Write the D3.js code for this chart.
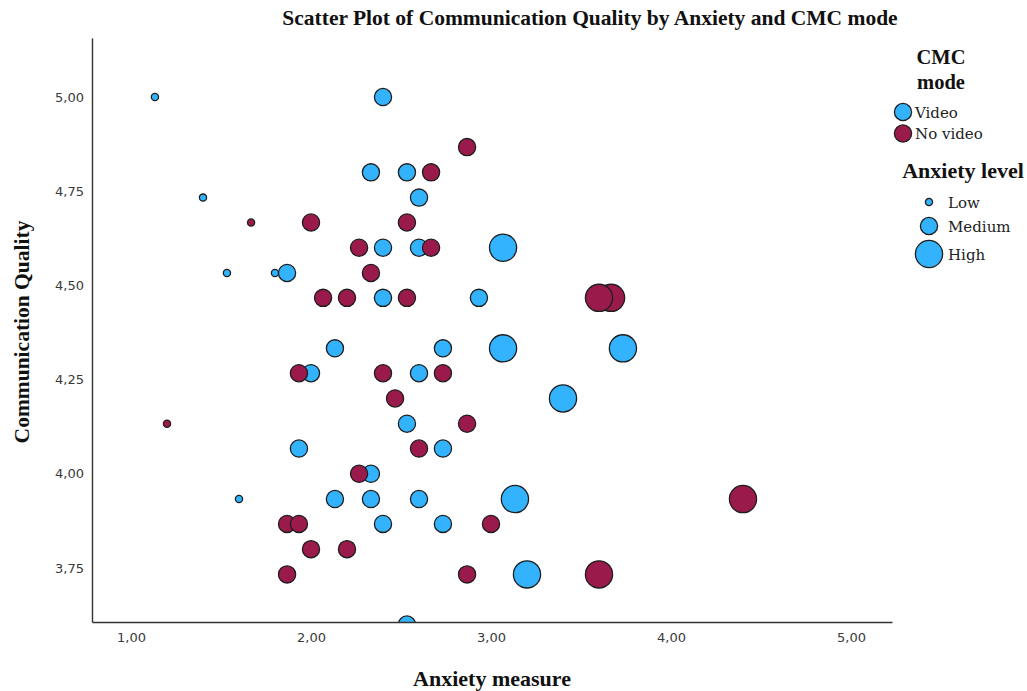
<!DOCTYPE html>
<html>
<head>
<meta charset="utf-8">
<script src="https://cdn.jsdelivr.net/npm/d3@7"></script>
<style>
  html, body { margin: 0; padding: 0; background: #fff; }
  svg { display: block; }
</style>
</head>
<body>
<svg id="chart" width="1027" height="691"></svg>
<script>
// Anxiety measure (x), communication quality (y) and anxiety level per respondent
const videoAnxiety = [1.133, 2.4, 2.333, 2.533, 1.4, 2.6, 2.4, 2.6, 3.067, 1.533, 1.8, 1.867,
  2.4, 2.933, 2.133, 2.733, 3.067, 3.733, 2.0, 2.6, 3.4, 2.533, 1.933, 2.733, 2.333,
  1.6, 2.133, 2.333, 2.6, 3.133, 2.4, 2.733, 3.2, 2.533];
const videoQuality = [5.0, 5.0, 4.8, 4.8, 4.733, 4.733, 4.6, 4.6, 4.6, 4.533, 4.533, 4.533,
  4.467, 4.467, 4.333, 4.333, 4.333, 4.333, 4.267, 4.267, 4.2, 4.133, 4.067, 4.067, 4.0,
  3.933, 3.933, 3.933, 3.933, 3.933, 3.867, 3.867, 3.733, 3.6];
const videoLevel = ["Low", "Medium", "Medium", "Medium", "Low", "Medium", "Medium", "Medium", "High", "Low", "Low", "Medium",
  "Medium", "Medium", "Medium", "Medium", "High", "High", "Medium", "Medium", "High", "Medium", "Medium", "Medium", "Medium",
  "Low", "Medium", "Medium", "Medium", "High", "Medium", "Medium", "High", "Medium"];

const noVideoAnxiety = [2.867, 2.667, 1.667, 2.0, 2.533, 2.267, 2.667, 2.333, 2.067, 2.2, 2.533,
  3.667, 3.6, 1.933, 2.4, 2.733, 2.467, 1.2, 2.867, 2.6, 2.267, 4.4, 1.867, 1.933, 3.0,
  2.0, 2.2, 1.867, 2.867, 3.6];
const noVideoQuality = [4.867, 4.8, 4.667, 4.667, 4.667, 4.6, 4.6, 4.533, 4.467, 4.467, 4.467,
  4.467, 4.467, 4.267, 4.267, 4.267, 4.2, 4.133, 4.133, 4.067, 4.0, 3.933, 3.867, 3.867, 3.867,
  3.8, 3.8, 3.733, 3.733, 3.733];
const noVideoLevel = ["Medium", "Medium", "Low", "Medium", "Medium", "Medium", "Medium", "Medium", "Medium", "Medium", "Medium",
  "High", "High", "Medium", "Medium", "Medium", "Medium", "Low", "Medium", "Medium", "Medium", "High", "Medium", "Medium", "Medium",
  "Medium", "Medium", "Medium", "Medium", "High"];

const modes = ["Video", "No video"];
const levels = ["Low", "Medium", "High"];
const xTicks = [1, 2, 3, 4, 5];
const yTicks = [3.75, 4.0, 4.25, 4.5, 4.75, 5.0];

const modeColor = d3.scaleOrdinal().domain(modes).range(["#33b3fd", "#9b1a4c"]);
const levelRadius = d3.scaleOrdinal().domain(levels).range([3.6, 8.6, 13.6]);

const points = [
  ...videoAnxiety.map((a, i) => ({ x: a, y: videoQuality[i], mode: "Video", level: videoLevel[i] })),
  ...noVideoAnxiety.map((a, i) => ({ x: a, y: noVideoQuality[i], mode: "No video", level: noVideoLevel[i] }))
];

const svg = d3.select("#chart");
const plot = { left: 92, right: 892, top: 38, bottom: 622 };

// 1 unit of anxiety = 180 px, 1 unit of quality = 376.8 px
const x = d3.scaleLinear().domain([0.7833, 5.2278]).range([plot.left, plot.right]);
const y = d3.scaleLinear().domain([3.6067, 5.1566]).range([plot.bottom, plot.top]);

const locale = d3.formatLocale({ decimal: ",", thousands: ".", grouping: [3], currency: ["", ""] });
const fmt = locale.format(".2f");

const serif = "'Liberation Serif', 'Times New Roman', serif";
const lightSerif = "'DejaVu Serif', Georgia, serif";
const sans = "'DejaVu Sans', Verdana, sans-serif";

svg.append("defs").append("clipPath").attr("id", "plot-clip")
  .append("rect")
  .attr("x", plot.left).attr("y", plot.top)
  .attr("width", plot.right - plot.left).attr("height", plot.bottom - plot.top);

// Points
svg.append("g").attr("clip-path", "url(#plot-clip)")
  .selectAll("circle").data(points).join("circle")
  .attr("cx", d => x(d.x))
  .attr("cy", d => y(d.y))
  .attr("r", d => levelRadius(d.level))
  .attr("fill", d => modeColor(d.mode))
  .attr("stroke", "#1e1e1e")
  .attr("stroke-width", 1.3);

// Axes
const yAxis = svg.append("g").attr("transform", `translate(${plot.left},0)`)
  .call(d3.axisLeft(y).tickValues(yTicks).tickFormat(fmt).tickSize(0).tickPadding(8).tickSizeOuter(0));
const xAxis = svg.append("g").attr("transform", `translate(0,${plot.bottom})`)
  .call(d3.axisBottom(x).tickValues(xTicks).tickFormat(fmt).tickSize(0).tickPadding(11).tickSizeOuter(0));

[xAxis, yAxis].forEach(g => {
  g.select(".domain").attr("stroke", "#333").attr("stroke-width", 1.4);
  g.selectAll("text").attr("font-family", sans).attr("font-size", 13).attr("fill", "#3a3a3a");
});

// Titles
svg.append("text")
  .attr("x", 590).attr("y", 25)
  .attr("text-anchor", "middle")
  .attr("font-family", serif).attr("font-weight", "bold").attr("font-size", 21.5)
  .attr("fill", "#111")
  .text("Scatter Plot of Communication Quality by Anxiety and CMC mode");

svg.append("text")
  .attr("x", 492).attr("y", 686)
  .attr("text-anchor", "middle")
  .attr("font-family", serif).attr("font-weight", "bold").attr("font-size", 22)
  .attr("fill", "#111")
  .text("Anxiety measure");

svg.append("text")
  .attr("transform", "translate(29,332) rotate(-90)")
  .attr("text-anchor", "middle")
  .attr("font-family", serif).attr("font-weight", "bold").attr("font-size", 21.5)
  .attr("fill", "#111")
  .text("Communication Quality");

// Legend: CMC mode
const legend = svg.append("g");
legend.append("text").attr("x", 941).attr("y", 64).attr("text-anchor", "middle")
  .attr("font-family", serif).attr("font-weight", "bold").attr("font-size", 20.5).attr("fill", "#111")
  .text("CMC");
legend.append("text").attr("x", 941).attr("y", 89).attr("text-anchor", "middle")
  .attr("font-family", serif).attr("font-weight", "bold").attr("font-size", 20.5).attr("fill", "#111")
  .text("mode");

const modeItems = legend.selectAll("g.mode").data(modes).join("g")
  .attr("class", "mode")
  .attr("transform", (d, i) => `translate(903,${112 + i * 21.5})`);
modeItems.append("circle").attr("r", levelRadius("Medium"))
  .attr("fill", d => modeColor(d)).attr("stroke", "#1e1e1e").attr("stroke-width", 1.3);
modeItems.append("text").attr("x", 12).attr("y", 5.5)
  .attr("font-family", lightSerif).attr("font-size", 15).attr("fill", "#222")
  .text(d => d);

// Legend: anxiety level
legend.append("text").attr("x", 963).attr("y", 178).attr("text-anchor", "middle")
  .attr("font-family", serif).attr("font-weight", "bold").attr("font-size", 22).attr("fill", "#111")
  .text("Anxiety level");

const levelY = { Low: 202, Medium: 226, High: 254 };
const levelItems = legend.selectAll("g.level").data(levels).join("g")
  .attr("class", "level")
  .attr("transform", d => `translate(929,${levelY[d]})`);
levelItems.append("circle").attr("r", d => levelRadius(d))
  .attr("fill", modeColor("Video")).attr("stroke", "#1e1e1e").attr("stroke-width", 1.3);
levelItems.append("text").attr("x", 19).attr("y", 5.5)
  .attr("font-family", lightSerif).attr("font-size", 15).attr("fill", "#222")
  .text(d => d);
</script>
</body>
</html>
